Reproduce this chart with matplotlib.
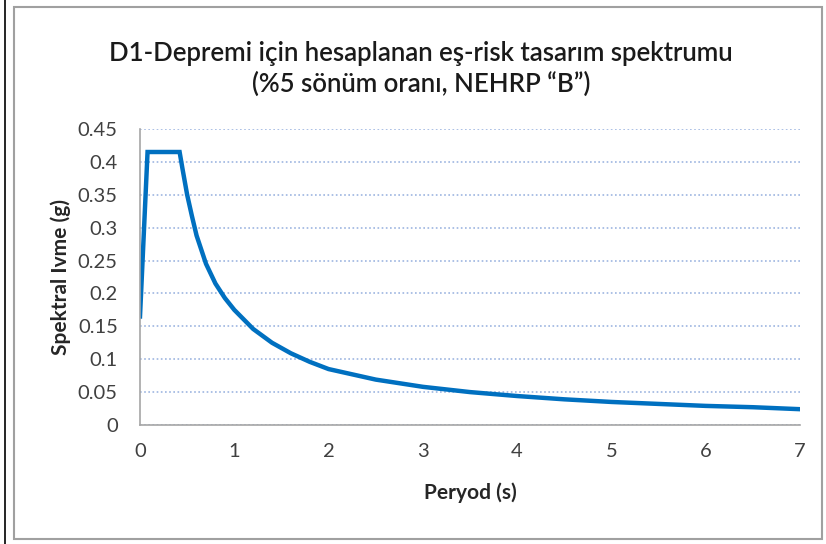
import matplotlib.pyplot as plt
from matplotlib.patches import Rectangle
from matplotlib.lines import Line2D

# Period (s) and spectral acceleration (g)
period = [0, 0.08, 0.42, 0.45, 0.5, 0.55, 0.6, 0.7, 0.8, 0.9, 1.0, 1.2, 1.4, 1.6, 1.8, 2.0,
          2.5, 3.0, 3.5, 4.0, 4.5, 5.0, 5.5, 6.0, 6.5, 7.0]
spectral_acc = [0.165, 0.415, 0.415, 0.39, 0.35, 0.318, 0.288, 0.245, 0.215, 0.193, 0.175, 0.146,
                0.125, 0.109, 0.096, 0.085, 0.069, 0.058, 0.05, 0.044, 0.039, 0.035,
                0.032, 0.029, 0.027, 0.024]
y_ticks = [0, 0.05, 0.1, 0.15, 0.2, 0.25, 0.3, 0.35, 0.4, 0.45]
y_labels = ["0", "0.05", "0.1", "0.15", "0.2", "0.25", "0.3", "0.35", "0.4", "0.45"]
x_ticks = [0, 1, 2, 3, 4, 5, 6, 7]

plt.rcParams['font.family'] = ['Lato', 'DejaVu Sans']

fig = plt.figure(figsize=(8.26, 5.44), dpi=100)
ax = fig.add_axes([0.1695, 0.2188, 0.799, 0.5441])

# outer frame
fig.patches.append(Rectangle((14 / 826, 5 / 544), 808 / 826, 532 / 544, transform=fig.transFigure,
                             fill=False, edgecolor='#a0a0a0', linewidth=1.5))
fig.lines.append(Line2D([5 / 826, 5 / 826], [0, 1], transform=fig.transFigure,
                        color='black', linewidth=1.2))

ax.plot(period, spectral_acc, color='#0070C0', linewidth=3.2, solid_joinstyle='miter')

ax.set_xlim(0, 7)
ax.set_ylim(0, 0.45)
ax.set_yticks(y_ticks)
ax.set_yticklabels(y_labels)
ax.set_xticks(x_ticks)
ax.grid(axis='y', linestyle=(0, (1, 1.5)), color='#9DB5E0', linewidth=1.2)
ax.set_axisbelow(True)
for s in ['top', 'right']:
    ax.spines[s].set_visible(False)
for s in ['left', 'bottom']:
    ax.spines[s].set_color('#a6a6a6')
    ax.spines[s].set_linewidth(1.2)
ax.tick_params(length=0, labelsize=14.5, colors='#404040')
ax.tick_params(axis='y', pad=16)
ax.tick_params(axis='x', pad=13)

ax.set_ylabel("Spektral Ivme (g)", fontsize=15, fontweight='bold', color='#262626')
ax.yaxis.set_label_coords(-0.105, 0.5)
ax.set_xlabel("Peryod (s)", fontsize=15, fontweight='bold', color='#262626', labelpad=16)
fig.text(0.51, 0.873, "D1-Depremi için hesaplanan eş-risk tasarım spektrumu\n(%5 sönüm oranı, NEHRP \u201cB\u201d)",
         ha='center', va='center', fontsize=18.5, fontweight='semibold', color='#1a1a1a', linespacing=1.3)

fig.savefig("out.png", dpi=100)
